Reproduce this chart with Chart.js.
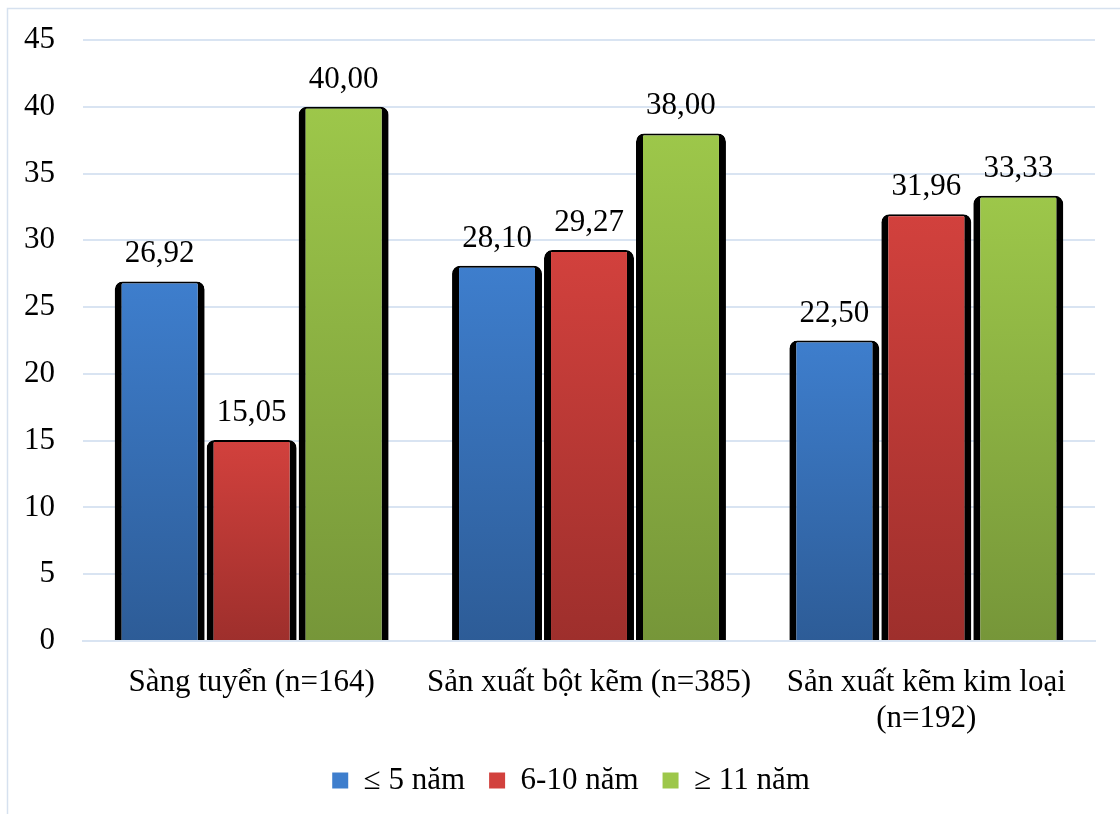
<!DOCTYPE html>
<html lang="vi">
<head>
<meta charset="utf-8">
<title>Thâm niên nghề theo bộ phận sản xuất</title>
<script src="https://cdn.jsdelivr.net/npm/chart.js@4.4.1/dist/chart.umd.min.js"></script>
<style>
  html, body { margin: 0; padding: 0; background: #ffffff; }
  #wrap { position: relative; width: 1120px; height: 814px; }
</style>
</head>
<body>
<div id="wrap"><canvas id="chart" width="1120" height="814"></canvas></div>
<script>
// Nhóm sản xuất (trục hoành)
const categories = [
  'Sàng tuyển (n=164)',
  'Sản xuất bột kẽm (n=385)',
  ['Sản xuất kẽm kim loại', '(n=192)']
];

// Tên các nhóm thâm niên
const seriesNames = ['≤ 5 năm', '6-10 năm', '≥ 11 năm'];

// Tỷ lệ (%) theo từng nhóm thâm niên
const under5Years = [26.92, 28.10, 22.50];
const from6to10Years = [15.05, 29.27, 31.96];
const over11Years = [40.00, 38.00, 33.33];

// Trục tung
const yTicks = [0, 5, 10, 15, 20, 25, 30, 35, 40, 45];

// Màu chuyển sắc cho từng chuỗi: [đỉnh cột, chân cột]
const seriesColors = [
  ['#3e7ecd', '#2d5c97'],
  ['#d2413d', '#9e2f2c'],
  ['#9dc74a', '#769639']
];

const FONT = "'Liberation Serif', serif";
const FONT_SIZE = 31;
const GRID_COLOR = '#d9e4f2';

function barGradient(ctx, i) {
  const chart = ctx.chart;
  const colors = seriesColors[i];
  const yScale = chart.scales.y;
  if (!chart.chartArea || !yScale || ctx.type !== 'data') {
    return colors[0];
  }
  const top = yScale.getPixelForValue(ctx.raw);
  const base = yScale.getPixelForValue(0);
  if (!isFinite(top) || !isFinite(base) || top === base) return colors[0];
  const g = chart.ctx.createLinearGradient(0, top, 0, base);
  g.addColorStop(0, colors[0]);
  g.addColorStop(1, colors[1]);
  return g;
}

const seriesData = [under5Years, from6to10Years, over11Years];

const datasets = seriesData.map((values, i) => ({
  label: seriesNames[i],
  data: values,
  backgroundColor: (ctx) => barGradient(ctx, i),
  borderColor: '#000000',
  borderWidth: { top: 2, left: 7, right: 7, bottom: 0 },
  borderSkipped: 'start',
  borderRadius: { topLeft: 8, topRight: 8, bottomLeft: 0, bottomRight: 0 },
  categoryPercentage: 0.818,
  barPercentage: 0.978
}));

// Khung viền mảnh quanh biểu đồ
const frame = {
  id: 'frame',
  beforeDraw(chart) {
    const c = chart.ctx;
    c.save();
    c.strokeStyle = '#d6e1ef';
    c.lineWidth = 1.5;
    c.strokeRect(7.5, 8.5, chart.width + 10, chart.height + 10);
    c.restore();
  }
};

// Trục tung hẹp (để chú giải lệch sang phải) nhưng nhãn số vẫn hiển thị đủ
const yLabelRoom = {
  id: 'yLabelRoom',
  afterLayout(chart) {
    chart.scales.y.left = 0;
  }
};

// Nhãn giá trị trên đầu mỗi cột (dấu phẩy thập phân)
const valueLabels = {
  id: 'valueLabels',
  afterDatasetsDraw(chart) {
    const c = chart.ctx;
    c.save();
    c.font = FONT_SIZE + 'px ' + FONT;
    c.fillStyle = '#000000';
    c.textAlign = 'center';
    c.textBaseline = 'alphabetic';
    chart.data.datasets.forEach((ds, di) => {
      const meta = chart.getDatasetMeta(di);
      meta.data.forEach((bar, idx) => {
        const txt = Number(ds.data[idx]).toFixed(2).replace('.', ',');
        c.fillText(txt, bar.x, bar.y - 19);
      });
    });
    c.restore();
  }
};

new Chart(document.getElementById('chart'), {
  type: 'bar',
  data: { labels: categories, datasets },
  plugins: [frame, yLabelRoom, valueLabels],
  options: {
    responsive: false,
    animation: false,
    devicePixelRatio: 1,
    font: { family: FONT, size: FONT_SIZE },
    layout: { padding: { top: 40, right: 25, bottom: 8, left: 47 } },
    scales: {
      x: {
        z: 1,
        grid: { display: false, drawTicks: false },
        border: { display: true, color: GRID_COLOR, width: 2 },
        ticks: {
          color: '#000000',
          font: { family: FONT, size: FONT_SIZE, lineHeight: 1.15 },
          padding: 24,
          maxRotation: 0,
          autoSkip: false
        },
        afterFit(scale) { scale.height = 100; }
      },
      y: {
        min: 0,
        max: 45,
        afterBuildTicks(scale) {
          scale.ticks = yTicks.map(v => ({ value: v }));
        },
        grid: { color: GRID_COLOR, lineWidth: 2, drawTicks: false },
        border: { display: false },
        ticks: {
          color: '#000000',
          font: { family: FONT, size: FONT_SIZE },
          padding: 28
        },
        afterFit(scale) {
          scale.width = 36;
          scale.paddingTop = 0;
          scale.paddingBottom = 0;
        }
      }
    },
    plugins: {
      legend: {
        position: 'bottom',
        labels: {
          color: '#000000',
          font: { family: FONT, size: FONT_SIZE },
          boxWidth: 16,
          boxHeight: 16,
          padding: 24,
          generateLabels() {
            return seriesNames.map((name, i) => ({
              text: name,
              fillStyle: seriesColors[i][0],
              strokeStyle: seriesColors[i][0],
              lineWidth: 0,
              datasetIndex: i,
              hidden: false
            }));
          }
        }
      },
      tooltip: { enabled: false }
    }
  }
});
</script>
</body>
</html>
